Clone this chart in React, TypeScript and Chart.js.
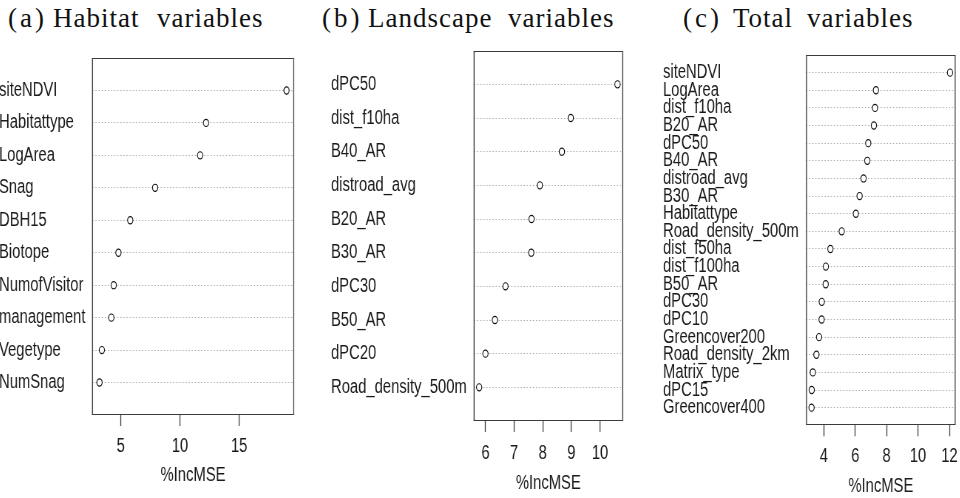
import React, { useEffect, useRef } from 'react';
import { Chart, registerables } from 'chart.js';

Chart.register(...registerables);

// ---- data ----
const habitatLabels = ['siteNDVI', 'Habitattype', 'LogArea', 'Snag', 'DBH15', 'Biotope', 'NumofVisitor', 'management', 'Vegetype', 'NumSnag'];
const habitatValues = [19.0, 12.2, 11.7, 7.9, 5.8, 4.8, 4.4, 4.2, 3.4, 3.2];
const habitatTicks = [5, 10, 15];

const landscapeLabels = ['dPC50', 'dist_f10ha', 'B40_AR', 'distroad_avg', 'B20_AR', 'B30_AR', 'dPC30', 'B50_AR', 'dPC20', 'Road_density_500m'];
const landscapeValues = [10.61, 8.98, 8.67, 7.9, 7.61, 7.6, 6.7, 6.33, 6.0, 5.78];
const landscapeTicks = [6, 7, 8, 9, 10];

const totalLabels = ['siteNDVI', 'LogArea', 'dist_f10ha', 'B20_AR', 'dPC50', 'B40_AR', 'distroad_avg', 'B30_AR', 'Habitattype', 'Road_density_500m', 'dist_f50ha', 'dist_f100ha', 'B50_AR', 'dPC30', 'dPC10', 'Greencover200', 'Road_density_2km', 'Matrix_type', 'dPC15', 'Greencover400'];
const totalValues = [12.04, 7.32, 7.26, 7.19, 6.83, 6.77, 6.53, 6.28, 6.04, 5.14, 4.42, 4.13, 4.12, 3.87, 3.86, 3.7, 3.53, 3.3, 3.23, 3.22];
const totalTicks = [4, 6, 8, 10, 12];

const axisTitle = '%IncMSE';
const panelTitles = [
  ['(a)', 'Habitat', 'variables'],
  ['(b)', 'Landscape', 'variables'],
  ['(c)', 'Total', 'variables'],
];

// ---- layout ----
const S = 0.74; // horizontal compression of the panels
const H = 498;
const FS = 20;
const FONT = "'Liberation Sans', Arial, sans-serif";

type Spec = {
  labels: string[];
  values: number[];
  ticks: number[];
  x0: number;
  boxLeft: number;
  boxRight: number;
  boxTop: number;
  boxBottom: number;
  tickPad: number;
  titlePad: number;
  width: number;
};

const specs: Spec[] = [
  { labels: habitatLabels, values: habitatValues, ticks: habitatTicks, x0: -1, boxLeft: 92, boxRight: 294, boxTop: 58, boxBottom: 415, tickPad: 8.7, titlePad: 11, width: 406 },
  { labels: landscapeLabels, values: landscapeValues, ticks: landscapeTicks, x0: 330.7, boxLeft: 473.3, boxRight: 622.7, boxTop: 50.7, boxBottom: 421, tickPad: 9, titlePad: 3, width: 404 },
  { labels: totalLabels, values: totalValues, ticks: totalTicks, x0: 662.7, boxLeft: 805.7, boxRight: 955.3, boxTop: 55, boxBottom: 425.3, tickPad: 8.4, titlePad: 0, width: 410 },
];

const titleLefts = [
  [8, 53, 157],
  [322, 368, 508],
  [683, 733, 807],
];

const boxPlugin = {
  id: 'rbox',
  beforeDatasetsDraw(chart: any) {
    const { ctx, chartArea } = chart;
    const { left, right, top, bottom } = chartArea;
    ctx.save();
    ctx.strokeStyle = '#3c3c3c';
    ctx.lineWidth = 1;
    ctx.beginPath();
    const yt = Math.round(top) + 0.5;
    const yb = Math.round(bottom) - 0.5;
    ctx.moveTo(left, yt);
    ctx.lineTo(right, yt);
    ctx.moveTo(left, yb);
    ctx.lineTo(right, yb);
    ctx.stroke();
    ctx.lineWidth = 1 / S;
    ctx.beginPath();
    ctx.moveTo(left + 0.5 / S, yt);
    ctx.lineTo(left + 0.5 / S, yb);
    ctx.moveTo(right - 0.5 / S, yt);
    ctx.lineTo(right - 0.5 / S, yb);
    ctx.stroke();
    ctx.restore();
  },
};

function Panel({ spec }: { spec: Spec }) {
  const ref = useRef<HTMLCanvasElement>(null);
  useEffect(() => {
    if (!ref.current) return;
    const n = spec.labels.length;
    const lo = Math.min(...spec.values);
    const hi = Math.max(...spec.values);
    const ext = (hi - lo) * 0.04;
    const areaLeft = (spec.boxLeft - spec.x0) / S;
    const areaRight = (spec.boxRight - spec.x0) / S;
    const chart = new Chart(ref.current, {
      type: 'scatter',
      data: {
        datasets: [
          {
            data: spec.values.map((v, i) => ({ x: v, y: i + 1 })),
            pointRadius: 3.6,
            pointBorderWidth: 1.15,
            pointBackgroundColor: '#ffffff',
            pointBorderColor: '#111111',
            showLine: false,
          },
        ],
      },
      options: {
        animation: false,
        responsive: false,
        devicePixelRatio: 1,
        events: [],
        layout: { padding: { left: 0, right: spec.width - areaRight, top: spec.boxTop, bottom: 0 } },
        plugins: { legend: { display: false }, tooltip: { enabled: false }, title: { display: false } },
        scales: {
          x: {
            type: 'linear',
            min: lo - ext,
            max: hi + ext,
            afterBuildTicks: (sc: any) => {
              sc.ticks = spec.ticks.map((v) => ({ value: v }));
            },
            afterFit: (sc: any) => {
              sc.height = H - spec.boxBottom;
            },
            grid: { drawOnChartArea: false, drawTicks: true, tickLength: 11, tickColor: '#444444', tickWidth: 1 / S, color: '#444444' },
            border: { display: false },
            ticks: { padding: spec.tickPad, font: { family: FONT, size: FS }, color: '#1a1a1a', autoSkip: false, maxRotation: 0 },
            title: { display: true, text: axisTitle, font: { family: FONT, size: FS }, color: '#1a1a1a', padding: { top: 0, bottom: spec.titlePad } },
          },
          y: {
            type: 'linear',
            min: 0,
            max: n + 1,
            reverse: true,
            afterBuildTicks: (sc: any) => {
              sc.ticks = spec.labels.map((_, i) => ({ value: i + 1 }));
            },
            afterFit: (sc: any) => {
              sc.width = areaLeft;
            },
            grid: { drawTicks: false, color: '#b0b0b0', lineWidth: 1 },
            border: { display: false, dash: [1.8, 2.4] },
            ticks: {
              crossAlign: 'far',
              autoSkip: false,
              font: { family: FONT, size: FS },
              color: '#1a1a1a',
              callback: (v: any) => spec.labels[Number(v) - 1] ?? '',
            },
          },
        },
      } as any,
      plugins: [boxPlugin],
    });
    return () => chart.destroy();
  }, [spec]);

  return (
    <div style={{ position: 'absolute', left: spec.x0, top: 0, width: spec.width, height: H, transform: `scaleX(${S})`, transformOrigin: '0 0' }}>
      <canvas ref={ref} width={spec.width} height={H} style={{ display: 'block' }} />
    </div>
  );
}

export default function App() {
  return (
    <div style={{ position: 'absolute', left: 0, top: 0, width: 960, height: H, overflow: 'hidden', background: '#ffffff' }}>
      {panelTitles.map((words, p) =>
        words.map((w, k) => (
          <span
            key={`${p}-${k}`}
            style={{
              position: 'absolute',
              left: titleLefts[p][k],
              top: 5,
              fontFamily: "'Liberation Serif', 'DejaVu Serif', serif",
              fontSize: 27,
              lineHeight: '27px',
              letterSpacing: k === 0 ? '3px' : '1px',
              color: '#111111',
              whiteSpace: 'nowrap',
            }}
          >
            {w}
          </span>
        ))
      )}
      {specs.map((s, i) => (
        <Panel key={i} spec={s} />
      ))}
    </div>
  );
}
